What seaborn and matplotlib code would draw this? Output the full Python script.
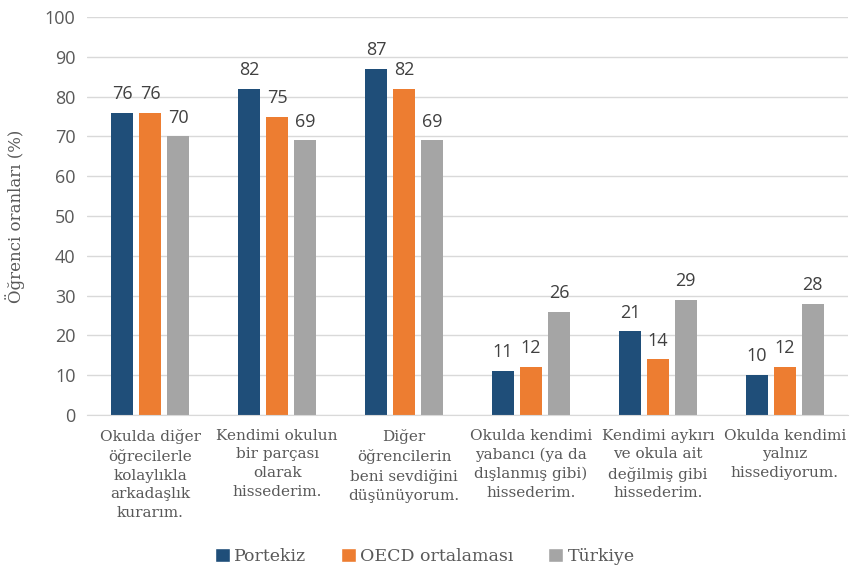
import matplotlib
matplotlib.use("Agg")
import matplotlib.pyplot as plt
import seaborn as sns
import pandas as pd
from matplotlib.patches import Patch

categories = [
    "Okulda diğer\nöğrecilerle\nkolaylıkla\narkadaşlık\nkurarım.",
    "Kendimi okulun\nbir parçası\nolarak\nhissederim.",
    "Diğer\nöğrencilerin\nbeni sevdiğini\ndüşünüyorum.",
    "Okulda kendimi\nyabancı (ya da\ndışlanmış gibi)\nhissederim.",
    "Kendimi aykırı\nve okula ait\ndeğilmiş gibi\nhissederim.",
    "Okulda kendimi\nyalnız\nhissediyorum.",
]
series = ["Portekiz", "OECD ortalaması", "Türkiye"]
portekiz = [76, 82, 87, 11, 21, 10]
oecd = [76, 75, 82, 12, 14, 12]
turkiye = [70, 69, 69, 26, 29, 28]
colors = ["#1f4e79", "#ed7d31", "#a5a5a5"]
yticks = [0, 10, 20, 30, 40, 50, 60, 70, 80, 90, 100]
ylabel = "Öğrenci oranları (%)"

rows = []
for name, vals in zip(series, [portekiz, oecd, turkiye]):
    for c, v in zip(categories, vals):
        rows.append({"cat": c, "series": name, "val": v})
df = pd.DataFrame(rows)

sns.set_style("white")
serif = ["DejaVu Serif"]
sans = ["Open Sans", "DejaVu Sans"]

fig = plt.figure(figsize=(8.5, 5.7), dpi=100)
ax = fig.add_axes([0.102, 0.272, 0.896, 0.698])
sns.barplot(data=df, x="cat", y="val", hue="series", order=categories,
            hue_order=series, palette=colors, width=0.66, gap=0.2,
            legend=False, ax=ax, saturation=1, edgecolor="none")

for cont in ax.containers:
    ax.bar_label(cont, fmt="%d", padding=7, fontsize=13, color="#404040",
                 family=sans)

ax.set_ylim(0, 100)
ax.set_yticks(yticks)
ax.set_xlim(-0.5, len(categories) - 0.5)
ax.yaxis.grid(True, color="#d9d9d9", linewidth=1)
ax.set_axisbelow(True)
for s in ["top", "right", "left"]:
    ax.spines[s].set_visible(False)
ax.spines["bottom"].set_color("#d9d9d9")
ax.tick_params(axis="y", length=0, labelsize=13, labelcolor="#595959", pad=8)
ax.tick_params(axis="x", length=0, pad=10)
for lab in ax.get_yticklabels():
    lab.set_family(sans)
ax.set_xticks(range(len(categories)))
ax.set_xticklabels(categories, fontsize=11, color="#595959", family=serif,
                   linespacing=1.42, ha="center", va="top")
ax.set_xlabel("")
ax.set_ylabel(ylabel, fontsize=12, color="#595959", family=serif, labelpad=14)

handles = [Patch(facecolor=c, label=s) for c, s in zip(colors, series)]
leg = fig.legend(handles=handles, loc="center", bbox_to_anchor=(0.5, 0.023),
                 ncol=3, frameon=False, handlelength=0.85, handleheight=0.85,
                 handletextpad=0.25, columnspacing=2.0,
                 prop={"family": serif, "size": 12.5})
for t in leg.get_texts():
    t.set_color("#595959")

fig.savefig("out.png", dpi=100)
